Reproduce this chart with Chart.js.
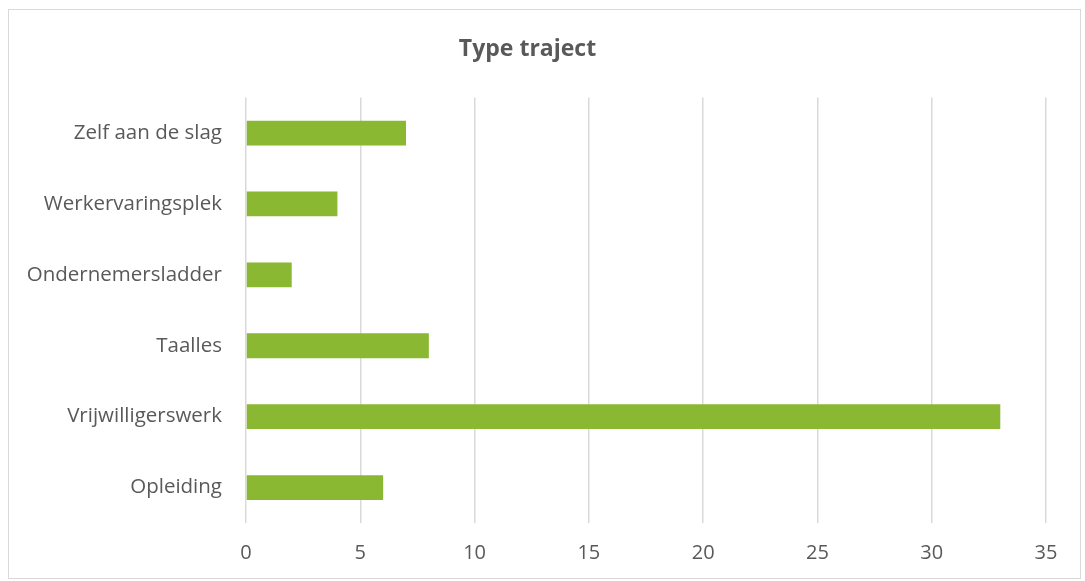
<!DOCTYPE html>
<html>
<head>
<meta charset="utf-8">
<script src="https://cdn.jsdelivr.net/npm/chart.js@4"></script>
<style>
  html, body { margin: 0; padding: 0; background: #fff; }
  #wrap {
    position: absolute; left: 8px; top: 9px;
    width: 1071px; height: 568px;
    border: 1px solid #d9d9d9;
  }
</style>
</head>
<body>
<div id="wrap"><canvas id="barChart" width="1071" height="568"></canvas></div>
<script>
const categories = ["Zelf aan de slag", "Werkervaringsplek", "Ondernemersladder", "Taalles", "Vrijwilligerswerk", "Opleiding"];
const counts = [7, 4, 2, 8, 33, 6];

const ctx = document.getElementById("barChart").getContext("2d");

new Chart(ctx, {
    type: "bar",
    data: {
        labels: categories,
        datasets: [{
            label: "Type traject",
            data: counts,
            backgroundColor: "#8ab833",
            categoryPercentage: 1,
            barPercentage: 0.35
        }]
    },
    options: {
        indexAxis: "y",
        responsive: false,
        animation: false,
        layout: { padding: { top: 0, right: 34, bottom: 0, left: 0 } },
        plugins: {
            legend: { display: false },
            tooltip: { enabled: false },
            title: {
                display: true,
                text: "Type traject",
                color: "#595959",
                font: { family: "Open Sans", size: 23, weight: "bold" },
                padding: { top: 26, bottom: 34 }
            }
        },
        scales: {
            x: {
                min: 0,
                max: 35,
                ticks: { stepSize: 5, color: "#595959", font: { family: "Open Sans", size: 20 }, padding: 18 },
                grid: { color: "#d9d9d9", lineWidth: 1.5, drawTicks: false },
                border: { display: false },
                afterFit: (scale) => { scale.height = 55; }
            },
            y: {
                ticks: { color: "#595959", font: { family: "Open Sans", size: 20.5 }, padding: 24 },
                grid: { display: false, drawTicks: false },
                border: { display: false },
                afterFit: (scale) => { scale.width = 237; }
            }
        }
    }
});
</script>
</body>
</html>
